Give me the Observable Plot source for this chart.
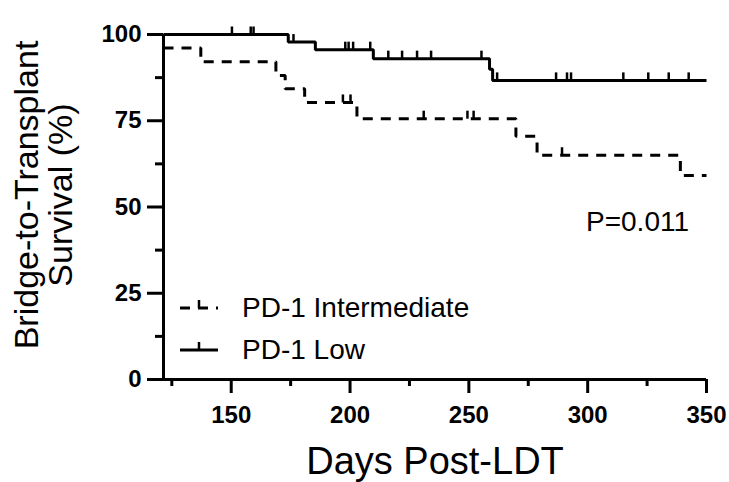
<!DOCTYPE html>
<html>
<head>
<meta charset="utf-8">
<script src="https://cdn.jsdelivr.net/npm/d3@7"></script>
<script src="https://cdn.jsdelivr.net/npm/@observablehq/plot@0.6"></script>
<style>
  html, body { margin: 0; padding: 0; background: #fff; }
</style>
</head>
<body>
<div id="chart"></div>
<script>
// ---- Data ----
const seriesNames = ["PD-1 Intermediate", "PD-1 Low"];
const xStart = 121.5, xEnd = 350;

// PD-1 Low (solid): step points [day, survival %]
const lowDays = [121.5, 174.0, 185.4, 209.8, 258.7, 260.0, 350];
const lowSurv = [100, 97.8, 95.6, 93.0, 89.9, 86.7, 86.7];
const lowCensor = [150.3, 158.2, 159.4, 176.2, 198.0, 199.4, 201.3, 208.5, 216.1, 221.9, 228.2, 234.1, 255.3, 261.9, 286.7, 291.3, 293.0, 315.0, 325.5, 334.1, 342.5];

// PD-1 Intermediate (dashed)
const intDays = [121.5, 137.2, 168.8, 172.7, 180.9, 202.9, 269.8, 278.7, 339.0, 350];
const intSurv = [96.1, 92.1, 88.1, 84.3, 80.3, 75.6, 70.5, 65.0, 59.1, 59.1];
const intCensor = [197.0, 200.2, 231.0, 249.4, 252.0, 289.2];

const xMajorTicks = [150, 200, 250, 300, 350];
const xMinorTicks = [125, 175, 225, 275, 325];
const yMajorTicks = [0, 25, 50, 75, 100];
const yMinorTicks = [12.5, 37.5, 62.5, 87.5];

const xTitle = "Days Post-LDT";
const yTitle = "Bridge-to-Transplant\nSurvival (%)";
const pText = "P=0.011";

// ---- Build tables ----
const toPts = (days, surv) => days.map((d, i) => ({day: d, s: surv[i]}));
const lowPts = toPts(lowDays, lowSurv);
const intPts = toPts(intDays, intSurv);
const survAt = (days, surv, t) => { let v = surv[0]; days.forEach((d, i) => { if (d <= t) v = surv[i]; }); return v; };
const lowC = lowCensor.map(t => ({day: t, s: survAt(lowDays, lowSurv, t)}));
const intC = intCensor.map(t => ({day: t, s: survAt(intDays, intSurv, t)}));

const censorSymbol = { draw(ctx) { ctx.moveTo(0, 0); ctx.lineTo(0, -8); } };
const FONT = "'Liberation Sans', Arial, Helvetica, sans-serif";

const plot = Plot.plot({
  width: 729,
  height: 482,
  marginLeft: 163,
  marginRight: 23,
  marginTop: 34,
  marginBottom: 103,
  style: { fontFamily: FONT, background: "white", color: "black", overflow: "visible" },
  x: { domain: [xStart, xEnd], label: null },
  y: { domain: [0, 100], label: null },
  marks: [
    Plot.axisX(xMajorTicks, { tickSize: 14, tickPadding: 12, strokeWidth: 3, fontSize: 24, fontWeight: "bold", label: null }),
    Plot.axisX(xMinorTicks, { tickSize: 7, strokeWidth: 3, tickFormat: () => "", label: null }),
    Plot.axisY(yMajorTicks, { tickSize: 16, tickPadding: 6, strokeWidth: 3, fontSize: 24, fontWeight: "bold", label: null }),
    Plot.axisY(yMinorTicks, { tickSize: 8, strokeWidth: 3, tickFormat: () => "", label: null }),
    Plot.ruleY([0], { strokeWidth: 3, stroke: "black" }),
    Plot.ruleX([xStart], { strokeWidth: 3, stroke: "black" }),
    Plot.line(intPts, { x: "day", y: "s", curve: "step-after", stroke: "black", strokeWidth: 3, strokeDasharray: "10,8", strokeLinecap: "butt", strokeLinejoin: "miter" }),
    Plot.line(lowPts, { x: "day", y: "s", curve: "step-after", stroke: "black", strokeWidth: 3, strokeLinecap: "butt", strokeLinejoin: "miter" }),
    Plot.dot(intC, { x: "day", y: "s", symbol: censorSymbol, fill: "none", stroke: "black", strokeWidth: 2.5 }),
    Plot.dot(lowC, { x: "day", y: "s", symbol: censorSymbol, fill: "none", stroke: "black", strokeWidth: 2.5 }),
    Plot.text([yTitle], { frameAnchor: "left", rotate: -90, textAnchor: "middle", lineAnchor: "middle", lineHeight: 1, fontSize: 34, dx: -119, dy: -12, fill: "black" }),
    Plot.text([xTitle], { frameAnchor: "bottom", textAnchor: "middle", lineAnchor: "middle", fontSize: 38, dy: 82, fill: "black" })
  ]
});

document.getElementById("chart").appendChild(plot);

// ---- Legend and annotation ----
const svg = d3.select(plot);
const g = svg.append("g").attr("font-family", FONT).attr("fill", "black").attr("text-anchor", "start");
const legend = [
  { name: seriesNames[0], dash: "10,8", y: 308 },
  { name: seriesNames[1], dash: null, y: 350 }
];
legend.forEach(item => {
  g.append("line").attr("x1", 180).attr("x2", 218).attr("y1", item.y).attr("y2", item.y)
    .attr("stroke", "black").attr("stroke-width", 3).attr("stroke-dasharray", item.dash);
  g.append("line").attr("x1", 199).attr("x2", 199).attr("y1", item.y).attr("y2", item.y - 8)
    .attr("stroke", "black").attr("stroke-width", 2.5);
  g.append("text").attr("x", 242).attr("y", item.y + 9).attr("font-size", 28).attr("text-anchor", "start").text(item.name);
});
g.append("text").attr("x", 586).attr("y", 231).attr("font-size", 28).attr("text-anchor", "start").text(pText);
</script>
</body>
</html>
